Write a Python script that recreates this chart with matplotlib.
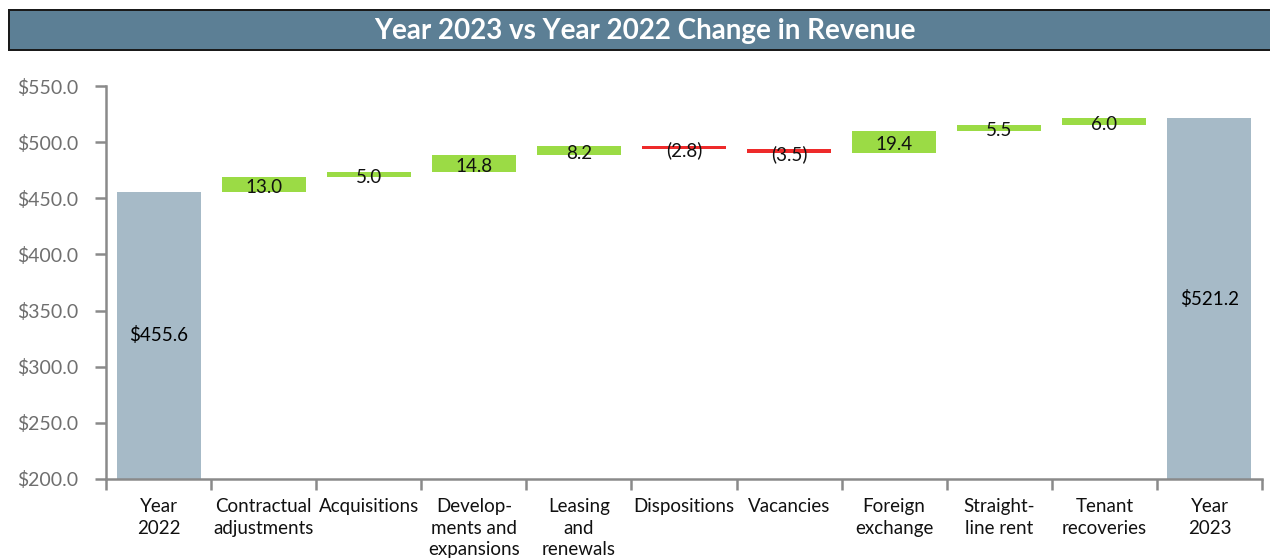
import numpy as np
import matplotlib.pyplot as plt
from matplotlib.patches import Rectangle

categories = ['Year\n2022', 'Contractual\nadjustments', 'Acquisitions',
              'Develop-\nments and\nexpansions', 'Leasing\nand\nrenewals',
              'Dispositions', 'Vacancies', 'Foreign\nexchange',
              'Straight-\nline rent', 'Tenant\nrecoveries', 'Year\n2023']
start_value = 455.6
changes = [13.0, 5.0, 14.8, 8.2, -2.8, -3.5, 19.4, 5.5, 6.0]
end_value = 521.2

plt.rcParams['font.family'] = ['Lato', 'DejaVu Sans']

total_color = '#a6bac7'
up_color = '#9bdb45'
down_color = '#ee2a2a'
axis_color = '#8a8a8a'

fig = plt.figure(figsize=(12.7, 5.58), dpi=100)
ax = fig.add_axes([106 / 1270, 1 - 479 / 558, (1262 - 106) / 1270, (479 - 86) / 558])

ymin = 200
n = len(categories)
x = np.arange(n)

# totals
ax.bar(x[0], start_value - ymin, bottom=ymin, width=0.8, color=total_color)
ax.bar(x[-1], end_value - ymin, bottom=ymin, width=0.8, color=total_color)
ax.text(x[0], (start_value + ymin) / 2, '${:.1f}'.format(start_value),
        ha='center', va='center', fontsize=13.5)
ax.text(x[-1], (end_value + ymin) / 2, '${:.1f}'.format(end_value),
        ha='center', va='center', fontsize=13.5)

# changes
level = start_value
for i, c in enumerate(changes, start=1):
    bottom = level if c >= 0 else level + c
    color = up_color if c >= 0 else down_color
    ax.bar(x[i], abs(c), bottom=bottom, width=0.8, color=color)
    label = '{:.1f}'.format(c) if c >= 0 else '({:.1f})'.format(-c)
    ax.annotate(label, (x[i], bottom + abs(c) / 2), xytext=(0, -2),
                textcoords='offset points', ha='center', va='center',
                fontsize=13.5, color='#111111')
    level += c

ax.set_xlim(-0.5, n - 0.5)
ax.set_ylim(ymin, 550)
ax.set_yticks(np.arange(200, 551, 50))
ax.set_yticklabels(['${:.1f}'.format(v) for v in np.arange(200, 551, 50)])
ax.set_xticks(x)
ax.set_xticklabels(categories, fontsize=13.5, linespacing=1.3)
ax.set_xticks(np.arange(-0.5, n, 1), minor=True)

for s in ['top', 'right']:
    ax.spines[s].set_visible(False)
for s in ['left', 'bottom']:
    ax.spines[s].set_color(axis_color)
    ax.spines[s].set_linewidth(1.8)

ax.tick_params(axis='y', colors=axis_color, labelcolor='#6f6f6f',
               labelsize=14, length=8, width=1.8, pad=12)
ax.tick_params(axis='x', which='major', length=0, pad=14, labelcolor='#111111')
ax.tick_params(axis='x', which='minor', length=8, width=1.8, color=axis_color)

# title bar
fig.patches.append(Rectangle((8 / 1270, 1 - 51 / 558), 1.0, 42 / 558,
                             transform=fig.transFigure, facecolor='#1a1a1a',
                             edgecolor='none', zorder=0))
fig.patches.append(Rectangle((10 / 1270, 1 - 49 / 558), 1.0, 38 / 558,
                             transform=fig.transFigure, facecolor='#5c7f95',
                             edgecolor='none', zorder=1))
fig.text(645 / 1270, 1 - 31 / 558, 'Year 2023 vs Year 2022 Change in Revenue',
         ha='center', va='center', color='white', fontsize=20, fontweight='bold')

fig.savefig('out.png', dpi=100)
